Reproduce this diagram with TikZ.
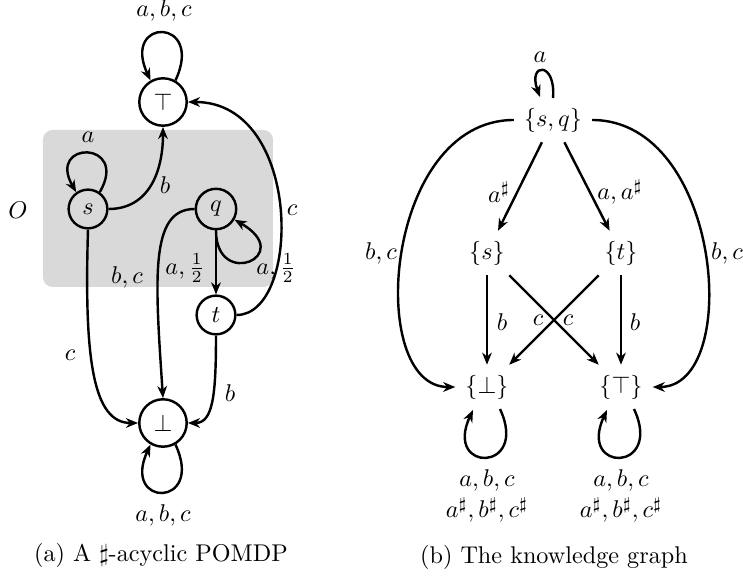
\documentclass[tikz,border=0pt]{standalone}
\usetikzlibrary{arrows.meta,calc}
\begin{document}
\begin{tikzpicture}[x=0.4132pt,y=0.4132pt,
  st/.style={circle,draw,line width=1pt,minimum size=16pt,inner sep=0pt},
  bigst/.style={st,minimum size=19.6pt},
  edge/.style={line width=1pt,-{Stealth[length=5pt,width=4pt,inset=1.6pt]}},
  kn/.style={inner sep=4pt},
  lbl/.style={inner sep=1pt}]
\useasboundingbox (0,0) rectangle (743,-577);
% ---------- (a) ----------
\fill[gray!30,rounded corners=4pt] (43,-130) rectangle (273,-287);
\node[bigst] (top) at (163,-102) {$\top$};
\node[st] (s) at (88,-209) {$s$};
\node[st,minimum size=16.7pt] (q) at (216,-209) {$q$};
\node[st] (t) at (216,-315) {$t$};
\node[bigst] (bot) at (163,-423) {$\bot$};
\node[lbl] (O) at (18,-210) {$O$};

\draw[edge] (top.60) .. controls +(65:70) and +(115:70) .. (top.120);
\draw[edge] (s.55) .. controls +(60:60) and +(120:60) .. (s.125);
\draw[edge] (s.east) .. controls +(40,0) and +(0,-45) .. (top.south);
\draw[edge] (q.south) .. controls +(0,-60) and +(-30:72) .. (q.-30);
\draw[edge] (q) -- (t);
\draw[edge] (t.east) .. controls +(65,0) and +(115,0) .. (top.east);
\draw[edge] (q.west) .. controls +(-45,0) and +(-8,120) .. (bot.north);
\draw[edge] (s.south) .. controls +(-4,-130) and +(-45,0) .. (bot.west);
\draw[edge] (t.south) .. controls +(0,-60) and +(25,0) .. (bot.east);
\draw[edge] (bot.-60) .. controls +(-65:70) and +(-115:70) .. (bot.-120);

\node[lbl] (l1) at (164,-10) {$a,b,c$};
\node[lbl] (l2) at (88,-137) {$a$};
\node[lbl] (l3) at (165,-185) {$b$};
\node[lbl] (l4) at (185,-268) {$a,\frac{1}{2}$};
\node[lbl] (l5) at (276,-268) {$a,\frac{1}{2}$};
\node[lbl] (l6) at (292,-210) {$c$};
\node[lbl] (l7) at (127,-277) {$b,c$};
\node[lbl] (l8) at (70,-355) {$c$};
\node[lbl] (l9) at (230,-393) {$b$};
\node[lbl] (l10) at (163,-515) {$a,b,c$};
\node[lbl] (capa) at (161,-555) {(a) A $\sharp$-acyclic POMDP};

% ---------- (b) ----------
\node[kn] (SQ) at (553,-120) {$\{s,q\}$};
\node[kn] (S) at (487,-253) {$\{s\}$};
\node[kn] (T) at (621,-253) {$\{t\}$};
\node[kn] (B) at (487,-387) {$\{\bot\}$};
\node[kn] (P) at (621,-387) {$\{\top\}$};

\draw[edge] ($(SQ.center)+(0,22)$) .. controls +(85:37) and +(110:37) .. ($(SQ.center)+(-13,23)$);
\draw[edge] (SQ) -- (S);
\draw[edge] (SQ) -- (T);
\draw[edge] (S) -- (B);
\draw[edge] (T) -- (P);
\draw[edge] (S) -- (P);
\draw[edge] (T) -- (B);
\draw[edge] (SQ.west) .. controls +(-130,0) and +(-90,0) .. (B.west);
\draw[edge] (SQ.east) .. controls +(130,0) and +(90,0) .. (P.east);
\draw[edge] ($(B.center)+(13,-22)$) .. controls +(-65:70) and +(-115:70) .. ($(B.center)+(-14,-23)$);
\draw[edge] ($(P.center)+(13,-22)$) .. controls +(-65:70) and +(-115:70) .. ($(P.center)+(-14,-23)$);

\node[lbl] (m1) at (540,-57) {$a$};
\node[lbl] (m2) at (499,-192) {$a^\sharp$};
\node[lbl] (m3) at (620,-192) {$a,a^\sharp$};
\node[lbl] (m4) at (381,-253) {$b,c$};
\node[lbl] (m5) at (727,-253) {$b,c$};
\node[lbl] (m6) at (502,-322) {$b$};
\node[lbl] (m7) at (538,-320) {$c$};
\node[lbl] (m8) at (568,-320) {$c$};
\node[lbl] (m9) at (635,-322) {$b$};
\node[lbl] (m10) at (487,-480) {$a,b,c$};
\node[lbl] (m11) at (487,-510) {$a^\sharp,b^\sharp,c^\sharp$};
\node[lbl] (m12) at (621,-480) {$a,b,c$};
\node[lbl] (m13) at (621,-510) {$a^\sharp,b^\sharp,c^\sharp$};
\node[lbl] (capb) at (554,-557) {(b) The knowledge graph};
\end{tikzpicture}
\end{document}
